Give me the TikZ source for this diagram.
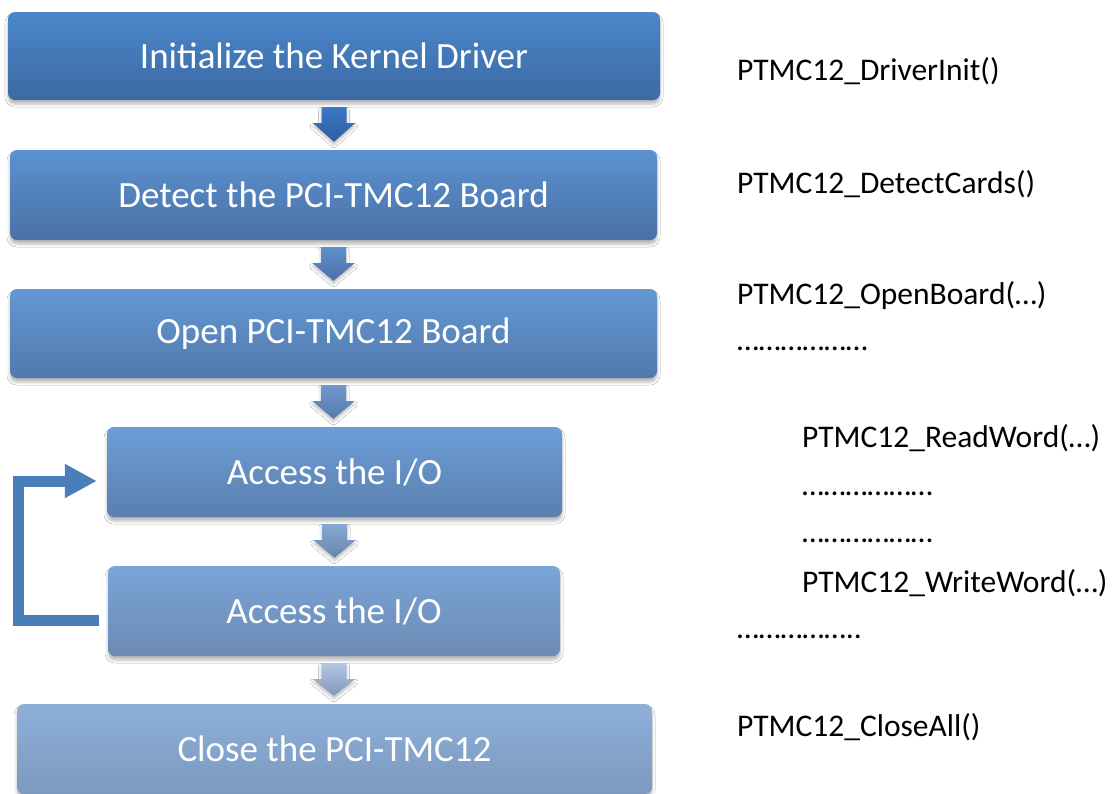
\documentclass[tikz,border=0pt]{standalone}
\usepackage{fontspec}
\setmainfont{Carlito}
\usetikzlibrary{calc,shadows.blur,arrows.meta}
\definecolor{loopblue}{HTML}{4A7EBB}
\newcommand{\flowarr}[4]{%
  \shade[top color=#3, bottom color=#4, arrshadow]
    ($(#1.south)+(-12.5,7)$) -- ($(#1.south)+(12.5,7)$) -- ($(#1.south)+(12.5,23)$)
    -- ($(#1.south)+(21,23)$) -- ($(#1.south |- #2.north)+(0,-8)$)
    -- ($(#1.south)+(-21,23)$) -- ($(#1.south)+(-12.5,23)$) -- cycle;}
\begin{document}
\begin{tikzpicture}[x=1pt,y=-1pt,
  box/.style={rounded corners=7pt, text=white, inner sep=0pt,
    font=\fontsize{37}{44}\selectfont,
    blur shadow={shadow xshift=0pt,shadow yshift=-4pt,shadow blur radius=3pt,shadow opacity=28}},
  arrshadow/.style={blur shadow={shadow xshift=0pt,shadow yshift=-3pt,shadow blur radius=3pt,shadow opacity=25}},
  code/.style={anchor=base west, inner sep=0pt, text=black,
    font=\fontsize{31.5}{38}\selectfont},
  loopline/.style={draw=loopblue, line width=11pt, line join=miter,
    -{Triangle[width=32pt,length=32pt]}}
]
\clip (0,0) rectangle (1114,793);
\fill[white] (0,0) rectangle (1114,793);

% boxes
\node[box, minimum width=652pt, minimum height=88pt, top color={rgb,255:red,74;green,135;blue,203}, bottom color={rgb,255:red,60;green,105;blue,163}]
  (b1) at (334,56) {Initialize the Kernel Driver};
\node[box, minimum width=647pt, minimum height=90pt, top color={rgb,255:red,91;green,145;blue,208}, bottom color={rgb,255:red,74;green,113;blue,166}]
  (b2) at (333.5,195) {Detect the PCI-TMC12 Board};
\node[box, minimum width=647pt, minimum height=89pt, top color={rgb,255:red,99;green,152;blue,211}, bottom color={rgb,255:red,82;green,121;blue,172}]
  (b3) at (333.5,333.5) {Open PCI-TMC12 Board};
\node[box, minimum width=455pt, minimum height=90pt, top color={rgb,255:red,108;green,157;blue,214}, bottom color={rgb,255:red,91;green,127;blue,174}]
  (b4) at (334.5,472) {Access the I/O};
\node[box, minimum width=452pt, minimum height=90pt, top color={rgb,255:red,123;green,165;blue,216}, bottom color={rgb,255:red,107;green,138;blue,179}]
  (b5) at (334,611) {Access the I/O};
\node[box, minimum width=635pt, minimum height=90pt, top color={rgb,255:red,141;green,176;blue,218}, bottom color={rgb,255:red,125;green,153;blue,190}]
  (b6) at (334.5,749) {Close the PCI-TMC12};

% flow arrows
\flowarr{b1}{b2}{{rgb,255:red,60;green,120;blue,196}}{{rgb,255:red,46;green,94;blue,158}}
\flowarr{b2}{b3}{{rgb,255:red,96;green,144;blue,204}}{{rgb,255:red,74;green,112;blue,168}}
\flowarr{b3}{b4}{{rgb,255:red,110;green,154;blue,208}}{{rgb,255:red,85;green,120;blue,172}}
\flowarr{b4}{b5}{{rgb,255:red,136;green,168;blue,212}}{{rgb,255:red,103;green,132;blue,176}}
\flowarr{b5}{b6}{{rgb,255:red,179;green,198;blue,226}}{{rgb,255:red,130;green,152;blue,188}}

% loop back
\coordinate (ls) at ([shift={(-9,9)}]b5.west);
\coordinate (le) at ([shift={(-10,9)}]b4.west);
\draw[loopline] (ls) -- ++(-80,0) |- (le);

% code texts
\node[code] (t1) at (737,80) {PTMC12\_DriverInit()};
\node[code] (t2) at (737,193) {PTMC12\_DetectCards()};
\node[code] (t3) at (737,304) {PTMC12\_OpenBoard(…)};
\node[code] (t4) at (737,350) {………………};
\node[code] (t5) at (802,447) {PTMC12\_ReadWord(…)};
\node[code] (t6) at (802,495) {………………};
\node[code] (t7) at (802,542) {………………};
\node[code] (t8) at (802,592) {PTMC12\_WriteWord(…)};
\node[code] (t9) at (737,638) {……………..};
\node[code] (t10) at (737,736) {PTMC12\_CloseAll()};
\end{tikzpicture}
\end{document}
